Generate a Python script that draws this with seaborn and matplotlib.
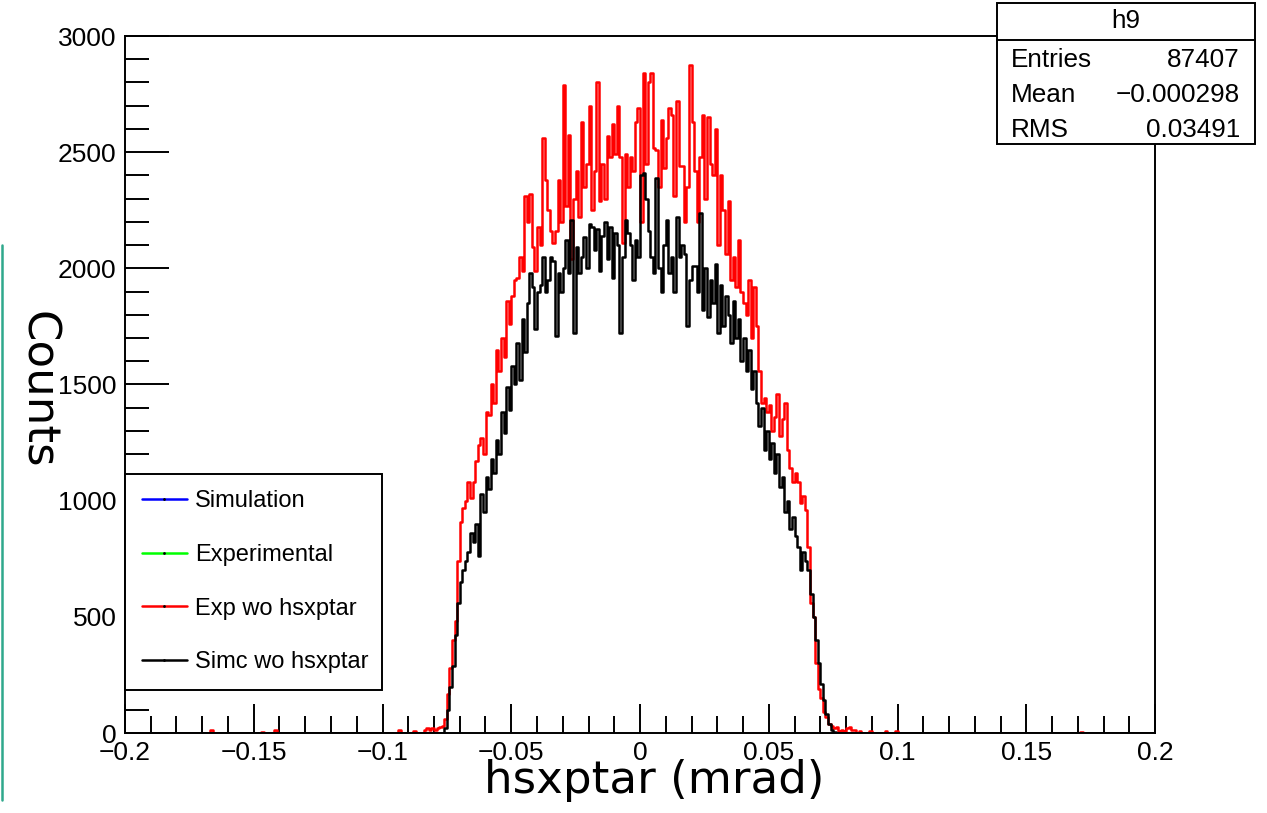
import numpy as np
import pandas as pd
import matplotlib
matplotlib.use("Agg")
import matplotlib.pyplot as plt
from matplotlib.lines import Line2D
from matplotlib.patches import Rectangle
from matplotlib.ticker import MultipleLocator
import seaborn as sns

# -------------------------------
# DATA
# -------------------------------
bin_width = 0.001
core_start = -0.080   # first bin of the dense part

exp_wo_hsxptar = [
    15, 20, 25, 30, 60, 170, 280, 400, 480, 740,
    910, 970, 1000, 1080, 1010, 1080, 1170, 1240, 1270, 1200,
    1380, 1370, 1500, 1420, 1650, 1560, 1700, 1620, 1860, 1760,
    1880, 1950, 1960, 2050, 1990, 2310, 2200, 2320, 2090, 1990,
    2180, 2100, 2560, 2380, 2250, 2160, 2110, 2160, 2380, 2200,
    2790, 2270, 2575, 2040, 2300, 2420, 2220, 2630, 2350, 2450,
    2700, 2250, 2420, 2800, 2290, 2450, 2300, 2570, 2480, 2620,
    2490, 2700, 2480, 2110, 2490, 2350, 2480, 2420, 2630, 2690,
    2200, 2840, 2450, 2800, 2840, 2520, 2510, 2350, 2640, 2430,
    2560, 2690, 2660, 2310, 2720, 2440, 2440, 2200, 2350, 2875,
    2630, 2420, 2200, 2480, 2660, 2300, 2650, 2450, 2400, 2600,
    2100, 2400, 2250, 2060, 2290, 1950, 2050, 1920, 2120, 1900,
    1850, 1800, 1950, 1700, 1920, 1750, 1560, 1420, 1440, 1380,
    1410, 1300, 1360, 1460, 1280, 1350, 1420, 1220, 1140, 1080,
    1120, 1080, 990, 1020, 960, 800, 560, 500, 300, 190,
    150, 90, 70, 40, 30, 20, 25, 10, 15, 8,
]

simc_wo_hsxptar = [
    0, 0, 0, 0, 20, 100, 200, 290, 420, 560,
    650, 700, 740, 780, 860, 820, 900, 760, 1030, 950,
    1100, 1050, 1180, 1120, 1260, 1200, 1380, 1290, 1490, 1390,
    1580, 1500, 1680, 1520, 1780, 1640, 1850, 1980, 1920, 1740,
    1900, 1930, 2050, 1900, 1950, 2050, 2030, 1710, 1980, 1900,
    2000, 2120, 1980, 2210, 1720, 2090, 1980, 2050, 2135, 2000,
    2190, 2180, 2080, 2170, 1990, 2140, 2200, 2040, 2180, 1960,
    2150, 2100, 1720, 2050, 2210, 2150, 2100, 1950, 2120, 2050,
    2400, 2410, 2300, 2160, 2050, 1980, 2390, 2000, 1900, 2100,
    2210, 1980, 2050, 1900, 2220, 2050, 2100, 2060, 1750, 1950,
    2010, 2010, 1900, 2240, 1820, 2000, 1790, 1950, 1850, 2020,
    1720, 1930, 1750, 1880, 1800, 1680, 1860, 1700, 1780, 1600,
    1700, 1560, 1650, 1480, 1560, 1420, 1320, 1400, 1220, 1300,
    1180, 1250, 1120, 1200, 1060, 1100, 950, 1000, 880, 930,
    850, 800, 700, 780, 740, 700, 600, 500, 400, 300,
    210, 140, 80, 40, 15, 5, 0, 0, 0, 0,
]

# isolated red entries outside the dense part (bin low edge, counts)
exp_tail_lo = [-0.167, -0.147, -0.142, -0.094, -0.088, -0.084, -0.083, -0.082, -0.081,
               0.080, 0.081, 0.082, 0.083, 0.085, 0.089, 0.095, 0.099, 0.171]
exp_tail_counts = [15, 5, 15, 15, 8, 15, 20, 15, 20,
                   20, 25, 15, 15, 10, 10, 10, 10, 5]

legend_labels = ["Simulation", "Experimental", "Exp wo hsxptar", "Simc wo hsxptar"]
legend_colors = ["#0000ff", "#00ff00", "#ff0000", "black"]

x_ticks = [-0.2, -0.15, -0.1, -0.05, 0, 0.05, 0.1, 0.15, 0.2]
x_ticklabels = ["\u22120.2", "\u22120.15", "\u22120.1", "\u22120.05", "0", "0.05", "0.1", "0.15", "0.2"]
y_ticks = [0, 500, 1000, 1500, 2000, 2500, 3000]

stats_title = "h9"
stats_rows = [("Entries", "87407"), ("Mean", "\u22120.000298"), ("RMS", "0.03491")]


# -------------------------------
# HISTOGRAM ARRAYS
# -------------------------------
edges = [round(-0.2 + bin_width * i, 6) for i in range(401)]
centers = [e + bin_width / 2 for e in edges[:-1]]
i0 = int(round((core_start + 0.2) / bin_width))

red = np.zeros(400)
red[i0:i0 + len(exp_wo_hsxptar)] = exp_wo_hsxptar
for lo, c in zip(exp_tail_lo, exp_tail_counts):
    red[int(round((lo + 0.2) / bin_width))] = c

black = np.zeros(400)
black[i0:i0 + len(simc_wo_hsxptar)] = simc_wo_hsxptar

df = pd.DataFrame({"x": centers, "red": red, "black": black})


# -------------------------------
# PLOT
# -------------------------------
sns.set_style("white")
plt.rcParams["font.family"] = ["Liberation Sans", "DejaVu Sans"]
plt.rcParams["text.color"] = "black"
plt.rcParams["xtick.color"] = "black"
plt.rcParams["ytick.color"] = "black"

fig = plt.figure(figsize=(12.67, 8.13), dpi=100)
ax = fig.add_axes([125 / 1267, 80 / 813, 1030 / 1267, 697 / 813])

sns.histplot(data=df, x="x", weights="red", bins=edges, element="step", fill=False,
             color="#ff0000", linewidth=1.8, ax=ax)
sns.histplot(data=df, x="x", weights="black", bins=edges, element="step", fill=False,
             color="black", linewidth=1.8, ax=ax)

ax.set_xlim(-0.2, 0.2)
ax.set_ylim(0, 3000)
ax.set_xticks(x_ticks)
ax.set_xticklabels(x_ticklabels)
ax.set_yticks(y_ticks)
ax.xaxis.set_minor_locator(MultipleLocator(0.01))
ax.yaxis.set_minor_locator(MultipleLocator(100))
ax.tick_params(axis="x", which="major", direction="in", length=21, width=1.4,
               labelsize=19, pad=6, bottom=True, top=False)
ax.tick_params(axis="x", which="minor", direction="in", length=12, width=1.4,
               bottom=True, top=False)
ax.tick_params(axis="y", which="major", direction="in", length=32, width=1.4,
               labelsize=19, pad=6, left=True, right=False)
ax.tick_params(axis="y", which="minor", direction="in", length=17, width=1.4,
               left=True, right=False)
for s in ax.spines.values():
    s.set_linewidth(1.4)
    s.set_color("black")

ax.set_xlabel("")
ax.set_ylabel("")
fig.text(654 / 1267, 1 - 780 / 813, "hsxptar (mrad)", family="DejaVu Sans",
         fontsize=32.5, ha="center", va="center")
fig.text(37 / 1267, 1 - 390 / 813, "Counts", family="DejaVu Sans",
         fontsize=32.5, ha="center", va="center", rotation=270)

# legend
handles = []
for lab, col in zip(legend_labels, legend_colors):
    handles.append(Line2D([0], [0], color=col, linewidth=1.8, marker=".",
                          markersize=2, markerfacecolor="black",
                          markeredgecolor="black"))
leg = ax.legend(handles, legend_labels, loc="lower left",
                bbox_to_anchor=(0, 43 / 697, 257 / 1030, 0.3), mode="expand",
                borderaxespad=0, fancybox=False, framealpha=1, edgecolor="black",
                fontsize=17, handlelength=1.9, handletextpad=0.34,
                labelspacing=1.34, borderpad=0.71)
leg.get_frame().set_linewidth(1.4)

# stats box
x0, x1 = 997 / 1267, 1255 / 1267
yt, yb, ydiv = 1 - 3 / 813, 1 - 144 / 813, 1 - 40 / 813
fig.add_artist(Rectangle((x0, yb), x1 - x0, yt - yb, transform=fig.transFigure,
                         facecolor="white", edgecolor="black", linewidth=1.4, zorder=5))
fig.add_artist(Line2D([x0, x1], [ydiv, ydiv], transform=fig.transFigure,
                      color="black", linewidth=1.4, zorder=6))
fig.text((x0 + x1) / 2, 1 - 21 / 813, stats_title, fontsize=18.8,
         ha="center", va="center", zorder=7)
for j, (name, val) in enumerate(stats_rows):
    yy = 1 - (60 + 35 * j) / 813
    fig.text(1011 / 1267, yy, name, fontsize=18.8, ha="left", va="center", zorder=7)
    fig.text(1240 / 1267, yy, val, fontsize=18.8, ha="right", va="center", zorder=7)

# teal slide edge on the left
fig.add_artist(Line2D([2 / 1267, 2 / 1267], [1 - 245 / 813, 1 - 800 / 813],
                      transform=fig.transFigure, color="#2fa88c", linewidth=1.8))

fig.savefig("out.png", dpi=100, facecolor="white")
plt.close(fig)
